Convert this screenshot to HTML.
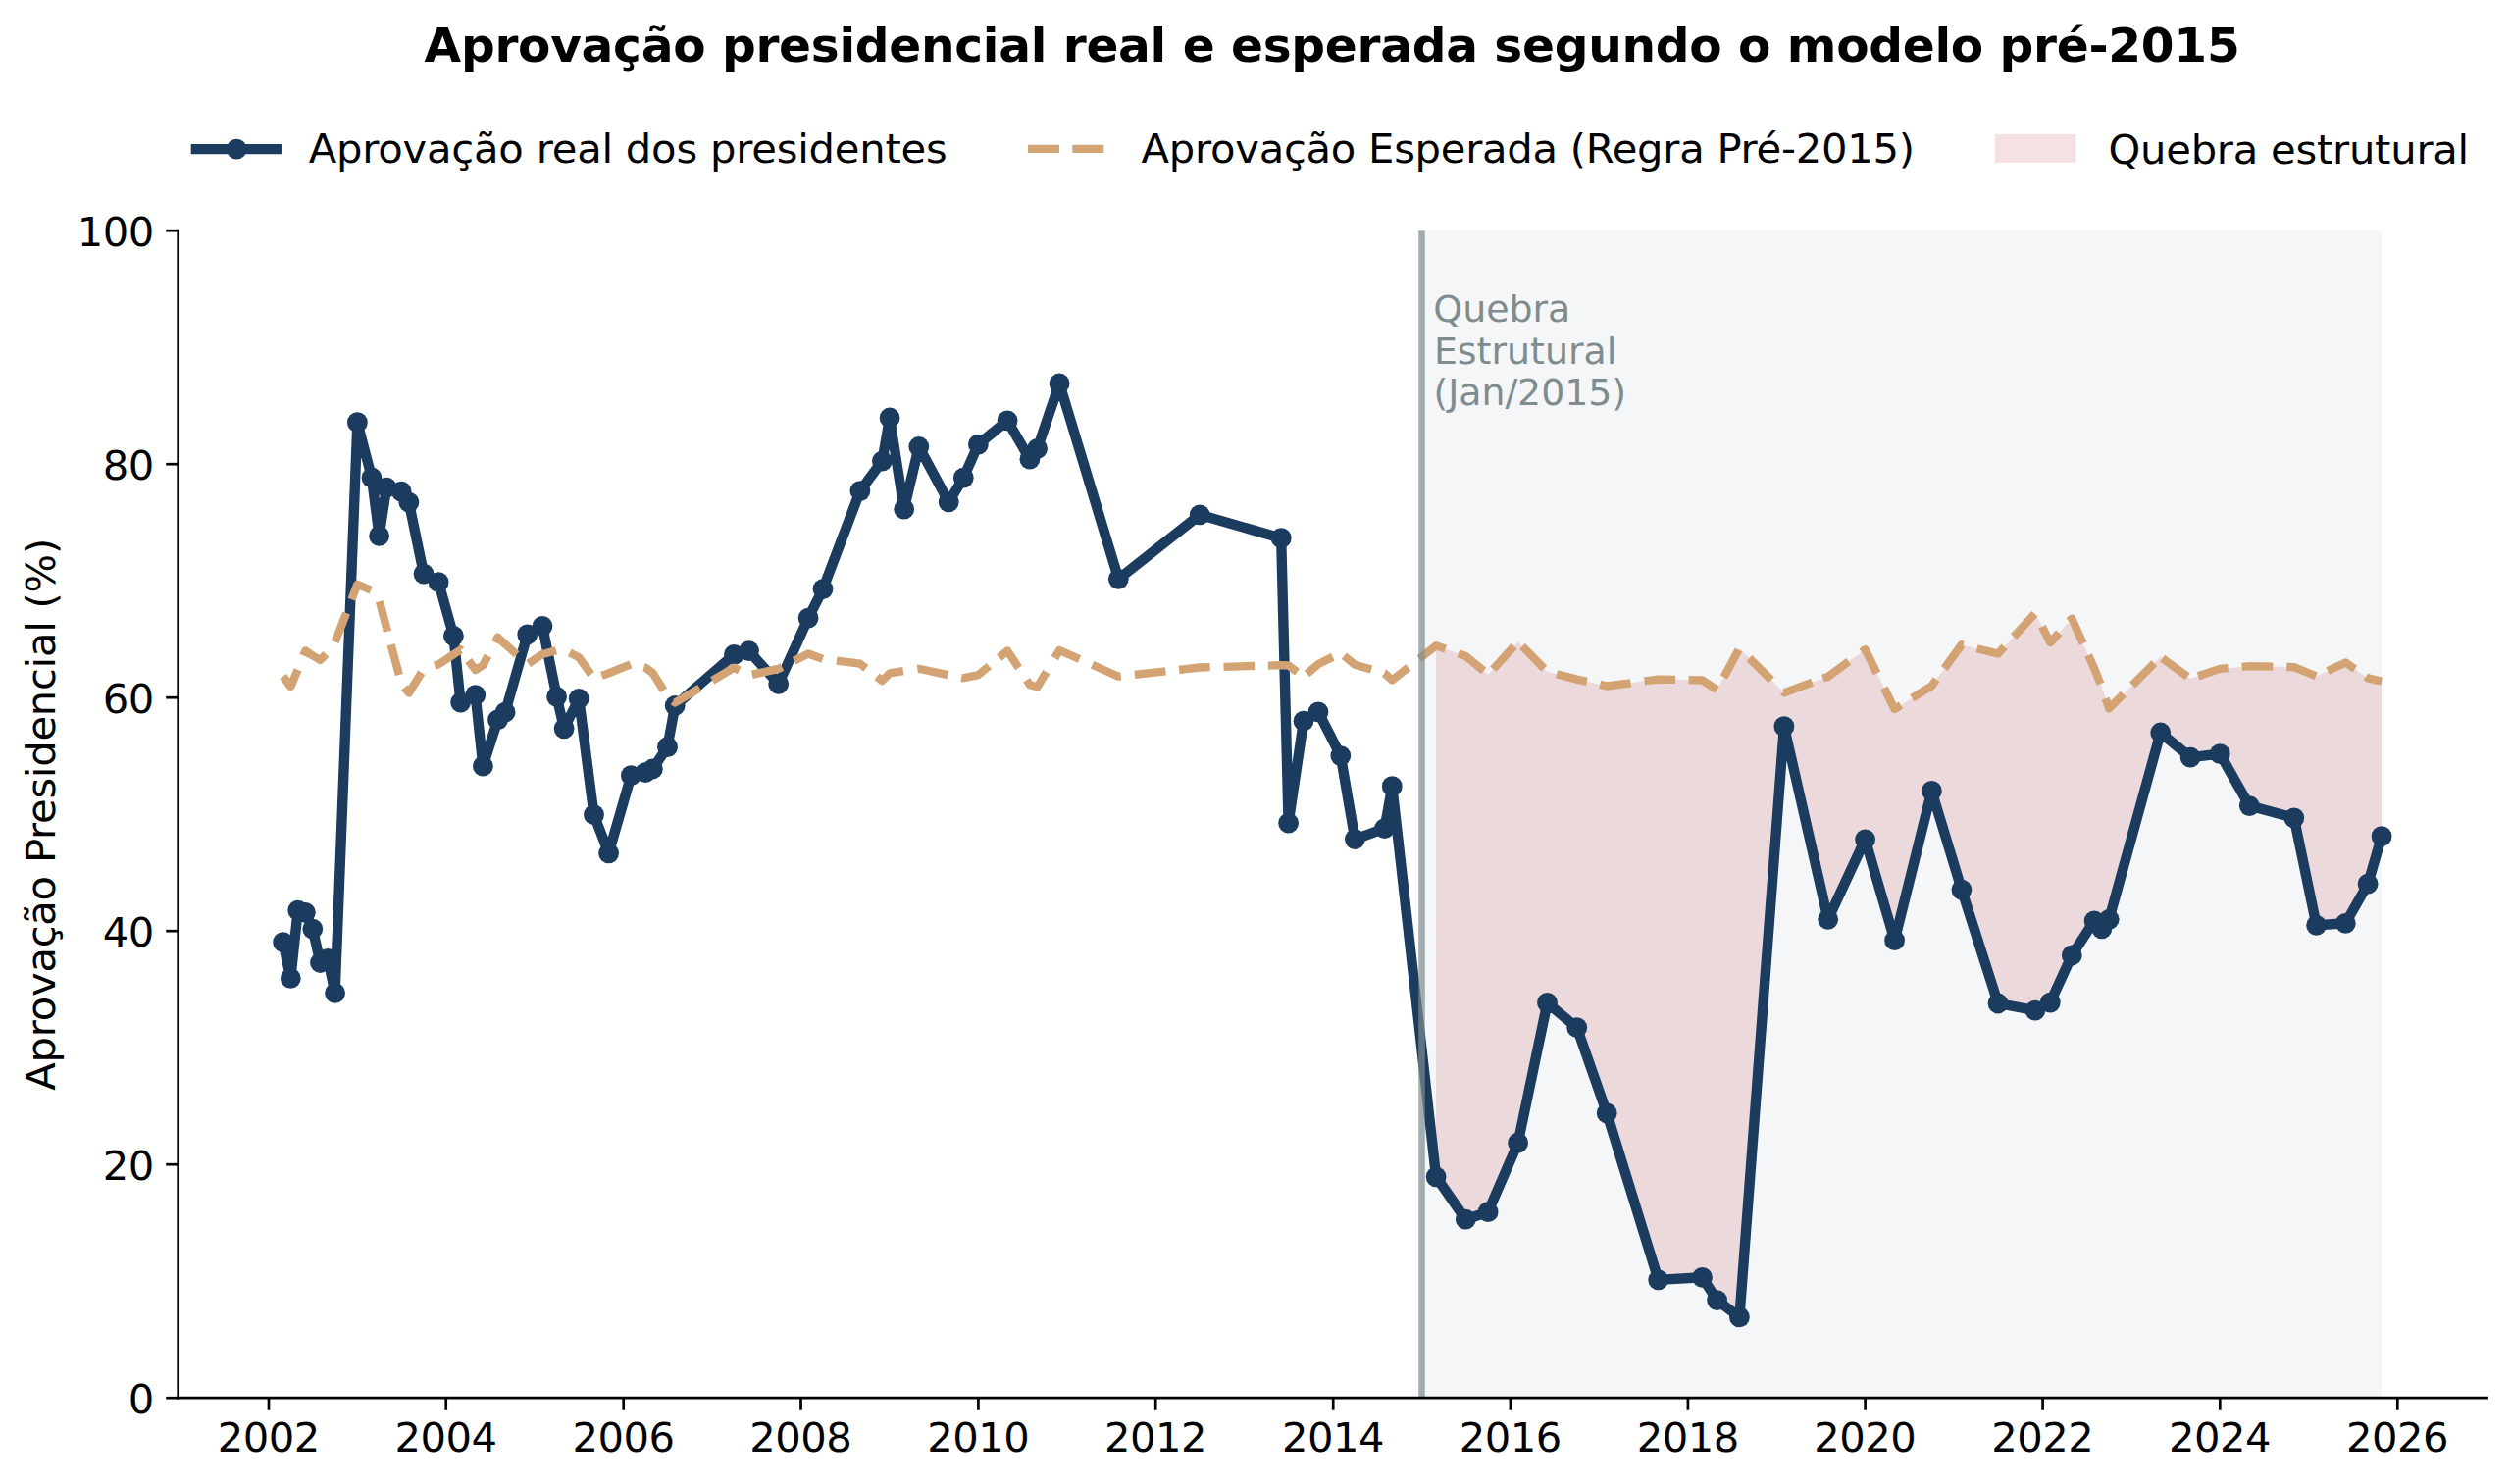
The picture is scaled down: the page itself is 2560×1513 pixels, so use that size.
<!DOCTYPE html>
<html lang="pt-BR">
<head>
<meta charset="utf-8">
<title>Aprovação presidencial real e esperada segundo o modelo pré-2015</title>
<style>html,body{margin:0;padding:0;background:#fff}svg{display:block}</style>
</head>
<body>
<svg width="2560" height="1513" viewBox="0 0 2560 1513" font-family="'DejaVu Sans', 'Liberation Sans', sans-serif">
<rect width="2560" height="1513" fill="#ffffff"/>
<rect x="1449.5" y="235.2" width="978.6" height="1190.0" fill="#f5f6f8"/>
<polygon points="1464.1,658.3 1494.3,668.9 1517.1,687.8 1547.6,654.4 1577.5,684.8 1607.7,692.6 1638.2,699.5 1690.7,692.6 1735.5,693.5 1750.6,703.3 1773.4,660.9 1818.9,706.3 1863.7,689.8 1901.6,662.1 1931.6,723.1 1969.4,699.2 1999.9,657.3 2037.0,666.5 2074.9,625.2 2090.3,655.1 2112.3,630.6 2135.1,681.4 2142.8,700.5 2150.2,722.4 2202.7,669.8 2233.1,692.0 2263.3,681.9 2293.3,679.2 2338.8,680.1 2361.6,689.4 2391.3,675.4 2414.1,691.4 2428.1,694.6 2428.1,852.7 2414.1,901.2 2391.3,941.3 2361.6,943.4 2338.8,833.8 2293.3,821.6 2263.3,768.6 2233.1,772.1 2202.7,747.0 2150.2,937.3 2142.8,946.9 2135.1,938.9 2112.3,974.0 2090.3,1022.1 2074.9,1030.1 2037.0,1023.0 1999.9,907.1 1969.4,806.4 1931.6,958.7 1901.6,855.8 1863.7,937.3 1818.9,740.7 1773.4,1342.8 1750.6,1325.6 1735.5,1302.3 1690.7,1304.9 1638.2,1134.9 1607.7,1047.7 1577.5,1022.4 1547.6,1165.2 1517.1,1235.7 1494.3,1243.2 1464.1,1199.8" fill="rgba(190,55,55,0.15)"/>
<polyline points="288.6,960.7 296.3,997.4 303.7,928.1 311.4,930.3 318.8,947.1 326.5,981.5 334.2,977.4 341.6,1012.3 364.4,430.7 379.0,487.0 386.6,546.4 394.1,497.1 409.2,501.1 416.9,512.2 432.0,585.1 447.1,593.7 462.4,648.3 469.6,716.1 484.7,708.7 492.4,781.2 507.5,733.9 515.1,726.2 537.7,646.8 553.0,638.3 567.6,710.4 575.1,742.8 590.2,712.5 605.5,830.7 620.6,869.8 643.4,790.7 658.0,787.7 665.4,784.0 680.5,761.6 688.2,719.5 748.4,667.4 763.5,663.7 793.7,697.3 824.1,630.1 839.0,600.6 876.9,500.6 899.4,470.1 907.1,426.0 921.7,519.2 936.8,455.5 967.2,511.9 982.3,487.1 997.4,453.1 1027.1,428.8 1049.9,468.2 1057.6,457.3 1080.1,391.0 1140.3,590.3 1223.2,524.8 1306.2,548.7 1313.6,839.1 1329.0,735.2 1344.0,725.8 1366.8,770.6 1381.4,855.6 1411.6,844.6 1419.3,801.7 1464.1,1199.8 1494.3,1243.2 1517.1,1235.7 1547.6,1165.2 1577.5,1022.4 1607.7,1047.7 1638.2,1134.9 1690.7,1304.9 1735.5,1302.3 1750.6,1325.6 1773.4,1342.8 1818.9,740.7 1863.7,937.3 1901.6,855.8 1931.6,958.7 1969.4,806.4 1999.9,907.1 2037.0,1023.0 2074.9,1030.1 2090.3,1022.1 2112.3,974.0 2135.1,938.9 2142.8,946.9 2150.2,937.3 2202.7,747.0 2233.1,772.1 2263.3,768.6 2293.3,821.6 2338.8,833.8 2361.6,943.4 2391.3,941.3 2414.1,901.2 2428.1,852.7" fill="none" stroke="#1b3b5f" stroke-width="10.4" stroke-linejoin="round" stroke-linecap="square"/>
<g fill="#1b3b5f"><circle cx="288.6" cy="960.7" r="10.4"/><circle cx="296.3" cy="997.4" r="10.4"/><circle cx="303.7" cy="928.1" r="10.4"/><circle cx="311.4" cy="930.3" r="10.4"/><circle cx="318.8" cy="947.1" r="10.4"/><circle cx="326.5" cy="981.5" r="10.4"/><circle cx="334.2" cy="977.4" r="10.4"/><circle cx="341.6" cy="1012.3" r="10.4"/><circle cx="364.4" cy="430.7" r="10.4"/><circle cx="379.0" cy="487.0" r="10.4"/><circle cx="386.6" cy="546.4" r="10.4"/><circle cx="394.1" cy="497.1" r="10.4"/><circle cx="409.2" cy="501.1" r="10.4"/><circle cx="416.9" cy="512.2" r="10.4"/><circle cx="432.0" cy="585.1" r="10.4"/><circle cx="447.1" cy="593.7" r="10.4"/><circle cx="462.4" cy="648.3" r="10.4"/><circle cx="469.6" cy="716.1" r="10.4"/><circle cx="484.7" cy="708.7" r="10.4"/><circle cx="492.4" cy="781.2" r="10.4"/><circle cx="507.5" cy="733.9" r="10.4"/><circle cx="515.1" cy="726.2" r="10.4"/><circle cx="537.7" cy="646.8" r="10.4"/><circle cx="553.0" cy="638.3" r="10.4"/><circle cx="567.6" cy="710.4" r="10.4"/><circle cx="575.1" cy="742.8" r="10.4"/><circle cx="590.2" cy="712.5" r="10.4"/><circle cx="605.5" cy="830.7" r="10.4"/><circle cx="620.6" cy="869.8" r="10.4"/><circle cx="643.4" cy="790.7" r="10.4"/><circle cx="658.0" cy="787.7" r="10.4"/><circle cx="665.4" cy="784.0" r="10.4"/><circle cx="680.5" cy="761.6" r="10.4"/><circle cx="688.2" cy="719.5" r="10.4"/><circle cx="748.4" cy="667.4" r="10.4"/><circle cx="763.5" cy="663.7" r="10.4"/><circle cx="793.7" cy="697.3" r="10.4"/><circle cx="824.1" cy="630.1" r="10.4"/><circle cx="839.0" cy="600.6" r="10.4"/><circle cx="876.9" cy="500.6" r="10.4"/><circle cx="899.4" cy="470.1" r="10.4"/><circle cx="907.1" cy="426.0" r="10.4"/><circle cx="921.7" cy="519.2" r="10.4"/><circle cx="936.8" cy="455.5" r="10.4"/><circle cx="967.2" cy="511.9" r="10.4"/><circle cx="982.3" cy="487.1" r="10.4"/><circle cx="997.4" cy="453.1" r="10.4"/><circle cx="1027.1" cy="428.8" r="10.4"/><circle cx="1049.9" cy="468.2" r="10.4"/><circle cx="1057.6" cy="457.3" r="10.4"/><circle cx="1080.1" cy="391.0" r="10.4"/><circle cx="1140.3" cy="590.3" r="10.4"/><circle cx="1223.2" cy="524.8" r="10.4"/><circle cx="1306.2" cy="548.7" r="10.4"/><circle cx="1313.6" cy="839.1" r="10.4"/><circle cx="1329.0" cy="735.2" r="10.4"/><circle cx="1344.0" cy="725.8" r="10.4"/><circle cx="1366.8" cy="770.6" r="10.4"/><circle cx="1381.4" cy="855.6" r="10.4"/><circle cx="1411.6" cy="844.6" r="10.4"/><circle cx="1419.3" cy="801.7" r="10.4"/><circle cx="1464.1" cy="1199.8" r="10.4"/><circle cx="1494.3" cy="1243.2" r="10.4"/><circle cx="1517.1" cy="1235.7" r="10.4"/><circle cx="1547.6" cy="1165.2" r="10.4"/><circle cx="1577.5" cy="1022.4" r="10.4"/><circle cx="1607.7" cy="1047.7" r="10.4"/><circle cx="1638.2" cy="1134.9" r="10.4"/><circle cx="1690.7" cy="1304.9" r="10.4"/><circle cx="1735.5" cy="1302.3" r="10.4"/><circle cx="1750.6" cy="1325.6" r="10.4"/><circle cx="1773.4" cy="1342.8" r="10.4"/><circle cx="1818.9" cy="740.7" r="10.4"/><circle cx="1863.7" cy="937.3" r="10.4"/><circle cx="1901.6" cy="855.8" r="10.4"/><circle cx="1931.6" cy="958.7" r="10.4"/><circle cx="1969.4" cy="806.4" r="10.4"/><circle cx="1999.9" cy="907.1" r="10.4"/><circle cx="2037.0" cy="1023.0" r="10.4"/><circle cx="2074.9" cy="1030.1" r="10.4"/><circle cx="2090.3" cy="1022.1" r="10.4"/><circle cx="2112.3" cy="974.0" r="10.4"/><circle cx="2135.1" cy="938.9" r="10.4"/><circle cx="2142.8" cy="946.9" r="10.4"/><circle cx="2150.2" cy="937.3" r="10.4"/><circle cx="2202.7" cy="747.0" r="10.4"/><circle cx="2233.1" cy="772.1" r="10.4"/><circle cx="2263.3" cy="768.6" r="10.4"/><circle cx="2293.3" cy="821.6" r="10.4"/><circle cx="2338.8" cy="833.8" r="10.4"/><circle cx="2361.6" cy="943.4" r="10.4"/><circle cx="2391.3" cy="941.3" r="10.4"/><circle cx="2414.1" cy="901.2" r="10.4"/><circle cx="2428.1" cy="852.7" r="10.4"/></g>
<g fill="none" stroke="#d4a373" stroke-width="8.33" stroke-linejoin="round">
<polyline points="288.6,689.5 296.3,700.0 303.7,682.6 311.4,663.4 318.8,668.5 326.5,672.9 334.2,665.0 341.6,654.9 341.7,654.5" stroke-dasharray="31.7 15.52"/>
<polyline points="341.7,654.5 364.4,595.8 379.0,602.1 386.6,611.9 387.0,613.1" stroke-dasharray="31.7 14.56"/>
<polyline points="387.0,613.1 394.1,640.4 409.2,696.8 412.3,700.8" stroke-dasharray="31.7 14.12"/>
<polyline points="412.3,700.8 416.9,706.5 432.0,682.2 443.1,678.6" stroke-dasharray="31.7 15.93"/>
<polyline points="443.1,678.6 447.1,677.4 462.4,667.2 469.6,662.4 477.7,673.5" stroke-dasharray="31.7 13.22"/>
<polyline points="477.7,673.5 484.7,683.1 492.4,678.3 507.5,649.8 515.1,656.9 537.7,677.0 538.6,676.4" stroke-dasharray="31.7 15.80"/>
<polyline points="538.6,676.4 553.0,667.0 567.6,663.1 575.1,662.7 580.8,665.6" stroke-dasharray="31.7 14.46"/>
<polyline points="580.8,665.6 590.2,670.2 605.5,691.6 613.4,688.9" stroke-dasharray="31.7 13.40"/>
<polyline points="613.4,688.9 620.6,686.4 643.4,677.1 656.5,680.3" stroke-dasharray="31.7 14.08"/>
<polyline points="656.5,680.3 658.0,680.7 665.4,686.0 680.5,710.0 686.3,714.9" stroke-dasharray="31.7 14.82"/>
<polyline points="686.3,714.9 688.2,716.5 726.3,693.8" stroke-dasharray="31.7 15.20"/>
<polyline points="726.3,693.8 748.4,680.7 763.5,688.6 766.8,687.9" stroke-dasharray="31.7 14.36"/>
<polyline points="766.8,687.9 793.7,681.9 809.7,673.8" stroke-dasharray="31.7 13.81"/>
<polyline points="809.7,673.8 824.1,666.5 839.0,671.9 852.9,673.7" stroke-dasharray="31.7 14.35"/>
<polyline points="852.9,673.7 876.9,676.7 894.0,689.9" stroke-dasharray="31.7 14.06"/>
<polyline points="894.0,689.9 899.4,694.1 907.1,686.4 921.7,684.0 935.3,682.0" stroke-dasharray="31.7 14.61"/>
<polyline points="935.3,682.0 936.8,681.8 967.2,688.3 980.2,690.9" stroke-dasharray="31.7 14.07"/>
<polyline points="980.2,690.9 982.3,691.3 997.4,688.1 1018.7,670.5" stroke-dasharray="31.7 13.51"/>
<polyline points="1018.7,670.5 1027.1,663.5 1046.7,693.3" stroke-dasharray="31.7 14.95"/>
<polyline points="1046.7,693.3 1049.9,698.3 1057.6,700.3 1075.3,671.0" stroke-dasharray="31.7 16.43"/>
<polyline points="1075.3,671.0 1080.1,663.0 1113.6,677.8" stroke-dasharray="31.7 14.23"/>
<polyline points="1113.6,677.8 1140.3,689.7 1156.9,687.9" stroke-dasharray="31.7 14.20"/>
<polyline points="1156.9,687.9 1202.1,682.8" stroke-dasharray="31.7 13.78"/>
<polyline points="1202.1,682.8 1223.2,680.5 1247.5,679.8" stroke-dasharray="31.7 13.86"/>
<polyline points="1247.5,679.8 1292.9,678.6" stroke-dasharray="31.7 13.73"/>
<polyline points="1292.9,678.6 1306.2,678.2 1313.6,678.5 1329.0,689.9 1332.4,687.0" stroke-dasharray="31.7 12.62"/>
<polyline points="1332.4,687.0 1344.0,677.1 1366.8,665.8 1370.3,668.6" stroke-dasharray="31.7 13.51"/>
<polyline points="1370.3,668.6 1381.4,677.7 1411.3,686.4" stroke-dasharray="31.7 13.81"/>
<polyline points="1411.3,686.4 1411.6,686.5 1419.3,693.5 1447.2,671.6" stroke-dasharray="31.7 14.47"/>
<polyline points="1447.2,671.6 1464.1,658.3 1486.8,666.3" stroke-dasharray="31.7 13.86"/>
<polyline points="1486.8,666.3 1494.3,668.9 1517.1,687.8 1522.3,682.2" stroke-dasharray="31.7 13.49"/>
<polyline points="1522.3,682.2 1547.6,654.4 1552.0,658.9" stroke-dasharray="31.7 12.12"/>
<polyline points="1552.0,658.9 1577.5,684.8 1587.1,687.3" stroke-dasharray="31.7 14.65"/>
<polyline points="1587.1,687.3 1607.7,692.6 1631.2,697.9" stroke-dasharray="31.7 13.65"/>
<polyline points="1631.2,697.9 1638.2,699.5 1676.6,694.4" stroke-dasharray="31.7 14.20"/>
<polyline points="1676.6,694.4 1690.7,692.6 1721.6,693.2" stroke-dasharray="31.7 13.43"/>
<polyline points="1721.6,693.2 1735.5,693.5 1750.6,703.3 1757.5,690.5" stroke-dasharray="31.7 14.72"/>
<polyline points="1757.5,690.5 1773.4,660.9 1783.4,671.0" stroke-dasharray="31.7 16.13"/>
<polyline points="1783.4,671.0 1818.2,705.5" stroke-dasharray="31.7 17.31"/>
<polyline points="1818.2,705.5 1818.9,706.3 1858.5,691.7" stroke-dasharray="31.7 11.55"/>
<polyline points="1858.5,691.7 1863.7,689.8 1897.9,664.8" stroke-dasharray="31.7 16.21"/>
<polyline points="1897.9,664.8 1901.6,662.1 1920.9,701.4" stroke-dasharray="31.7 16.69"/>
<polyline points="1920.9,701.4 1931.6,723.1 1949.4,711.8" stroke-dasharray="31.7 13.57"/>
<polyline points="1949.4,711.8 1969.4,699.2 1982.3,681.5" stroke-dasharray="31.7 13.90"/>
<polyline points="1982.3,681.5 1999.9,657.3 2015.6,661.2" stroke-dasharray="31.7 14.38"/>
<polyline points="2015.6,661.2 2037.0,666.5 2053.0,649.1" stroke-dasharray="31.7 13.97"/>
<polyline points="2053.0,649.1 2074.9,625.2 2081.9,638.8" stroke-dasharray="31.7 16.02"/>
<polyline points="2081.9,638.8 2090.3,655.1 2109.7,633.5" stroke-dasharray="31.7 15.66"/>
<polyline points="2109.7,633.5 2112.3,630.6 2129.1,668.0" stroke-dasharray="31.7 13.16"/>
<polyline points="2129.1,668.0 2135.1,681.4 2142.8,700.5 2146.7,712.1" stroke-dasharray="31.7 15.83"/>
<polyline points="2146.7,712.1 2150.2,722.4 2174.0,698.5" stroke-dasharray="31.7 12.93"/>
<polyline points="2174.0,698.5 2202.7,669.8 2204.6,671.2" stroke-dasharray="31.7 11.25"/>
<polyline points="2204.6,671.2 2233.1,692.0 2241.1,689.3" stroke-dasharray="31.7 12.05"/>
<polyline points="2241.1,689.3 2263.3,681.9 2285.7,679.9" stroke-dasharray="31.7 14.17"/>
<polyline points="2285.7,679.9 2293.3,679.2 2331.3,680.0" stroke-dasharray="31.7 13.93"/>
<polyline points="2331.3,680.0 2338.8,680.1 2361.6,689.4 2373.1,684.0" stroke-dasharray="31.7 13.11"/>
<polyline points="2373.1,684.0 2391.3,675.4 2412.0,689.9" stroke-dasharray="31.7 13.69"/>
<polyline points="2412.0,689.9 2414.1,691.4 2428.1,694.6" stroke-dasharray="31.7 13.80"/>
</g>
<line x1="1449.5" y1="235.2" x2="1449.5" y2="1425.2" stroke="rgba(127,140,141,0.7)" stroke-width="6.6"/>
<g fill="#7f8c8d" font-size="37.9px">
<text x="1461.35" y="328.2">Quebra</text>
<text x="1461.90" y="370.8">Estrutural</text>
<text x="1461.45" y="413.4" textLength="196.63" lengthAdjust="spacing">(Jan/2015)</text>
</g>
<g stroke="#000" stroke-width="2.7" fill="none">
<line x1="181.7" y1="233.85" x2="181.7" y2="1426.55"/>
<line x1="180.35" y1="1425.2" x2="2536.9" y2="1425.2"/>
<line x1="169.2" y1="1425.2" x2="181.7" y2="1425.2"/>
<line x1="169.2" y1="1187.2" x2="181.7" y2="1187.2"/>
<line x1="169.2" y1="949.2" x2="181.7" y2="949.2"/>
<line x1="169.2" y1="711.2" x2="181.7" y2="711.2"/>
<line x1="169.2" y1="473.2" x2="181.7" y2="473.2"/>
<line x1="169.2" y1="235.2" x2="181.7" y2="235.2"/>
<line x1="274.0" y1="1425.2" x2="274.0" y2="1437.7"/>
<line x1="454.7" y1="1425.2" x2="454.7" y2="1437.7"/>
<line x1="635.7" y1="1425.2" x2="635.7" y2="1437.7"/>
<line x1="816.5" y1="1425.2" x2="816.5" y2="1437.7"/>
<line x1="997.4" y1="1425.2" x2="997.4" y2="1437.7"/>
<line x1="1178.2" y1="1425.2" x2="1178.2" y2="1437.7"/>
<line x1="1359.2" y1="1425.2" x2="1359.2" y2="1437.7"/>
<line x1="1539.9" y1="1425.2" x2="1539.9" y2="1437.7"/>
<line x1="1720.9" y1="1425.2" x2="1720.9" y2="1437.7"/>
<line x1="1901.6" y1="1425.2" x2="1901.6" y2="1437.7"/>
<line x1="2082.6" y1="1425.2" x2="2082.6" y2="1437.7"/>
<line x1="2263.3" y1="1425.2" x2="2263.3" y2="1437.7"/>
<line x1="2444.3" y1="1425.2" x2="2444.3" y2="1437.7"/>
</g>
<g font-size="41.67px" fill="#000">
<text x="157.3" y="1440.5" text-anchor="end" textLength="26.5" lengthAdjust="spacing">0</text>
<text x="157.3" y="1202.5" text-anchor="end" textLength="52.5" lengthAdjust="spacing">20</text>
<text x="157.3" y="964.5" text-anchor="end" textLength="52.5" lengthAdjust="spacing">40</text>
<text x="157.3" y="726.5" text-anchor="end" textLength="52.5" lengthAdjust="spacing">60</text>
<text x="157.3" y="488.5" text-anchor="end" textLength="52.5" lengthAdjust="spacing">80</text>
<text x="157.3" y="250.5" text-anchor="end" textLength="78.5" lengthAdjust="spacing">100</text>
<text x="274.0" y="1480.4" text-anchor="middle" textLength="104.5" lengthAdjust="spacing">2002</text>
<text x="454.7" y="1480.4" text-anchor="middle" textLength="104.5" lengthAdjust="spacing">2004</text>
<text x="635.7" y="1480.4" text-anchor="middle" textLength="104.5" lengthAdjust="spacing">2006</text>
<text x="816.5" y="1480.4" text-anchor="middle" textLength="104.5" lengthAdjust="spacing">2008</text>
<text x="997.4" y="1480.4" text-anchor="middle" textLength="104.5" lengthAdjust="spacing">2010</text>
<text x="1178.2" y="1480.4" text-anchor="middle" textLength="104.5" lengthAdjust="spacing">2012</text>
<text x="1359.2" y="1480.4" text-anchor="middle" textLength="104.5" lengthAdjust="spacing">2014</text>
<text x="1539.9" y="1480.4" text-anchor="middle" textLength="104.5" lengthAdjust="spacing">2016</text>
<text x="1720.9" y="1480.4" text-anchor="middle" textLength="104.5" lengthAdjust="spacing">2018</text>
<text x="1901.6" y="1480.4" text-anchor="middle" textLength="104.5" lengthAdjust="spacing">2020</text>
<text x="2082.6" y="1480.4" text-anchor="middle" textLength="104.5" lengthAdjust="spacing">2022</text>
<text x="2263.3" y="1480.4" text-anchor="middle" textLength="104.5" lengthAdjust="spacing">2024</text>
<text x="2444.3" y="1480.4" text-anchor="middle" textLength="104.5" lengthAdjust="spacing">2026</text>
<text transform="translate(56.1,1111.69) rotate(-90)" textLength="562.89" lengthAdjust="spacing">Aprovação Presidencial (%)</text>
<line x1="199.9" y1="152.1" x2="282.5" y2="152.1" stroke="#1b3b5f" stroke-width="10.4" stroke-linecap="square"/>
<circle cx="241.2" cy="152.1" r="10.4" fill="#1b3b5f"/>
<text x="314.70" y="165.6" textLength="650.96" lengthAdjust="spacing">Aprovação real dos presidentes</text>
<line x1="1047.9" y1="151.8" x2="1131.2" y2="151.8" stroke="#d4a373" stroke-width="8.33" stroke-dasharray="32 13.4"/>
<text x="1163.56" y="165.6" textLength="788.48" lengthAdjust="spacing">Aprovação Esperada (Regra Pré-2015)</text>
<rect x="2033.9" y="136.9" width="82.6" height="29.0" fill="rgba(190,55,55,0.15)"/>
<text x="2149.51" y="166.6" textLength="367.65" lengthAdjust="spacing">Quebra estrutural</text>
</g>
<text x="432.58" y="63.4" font-size="48.6px" textLength="1851.13" lengthAdjust="spacing" font-weight="bold" fill="#000">Aprovação presidencial real e esperada segundo o modelo pré-2015</text>
</svg>
</body>
</html>
